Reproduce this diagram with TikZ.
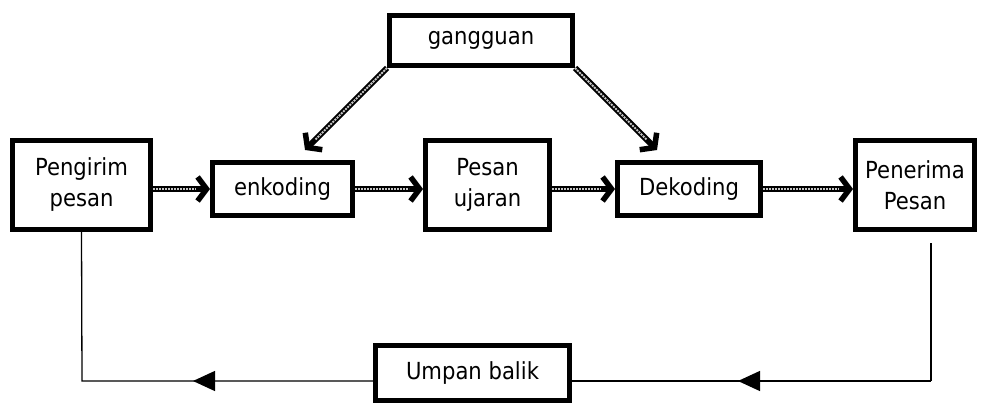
\documentclass[tikz,border=0pt]{standalone}
\usepackage{fontspec}
\setmainfont[FakeStretch=0.9]{DejaVu Sans}
\usetikzlibrary{arrows.meta}
\usetikzlibrary{decorations.markings}

\begin{document}
\begin{tikzpicture}[
		x=1pt, y=-1pt,
		boxnode/.style={
		% The shape:
		rectangle,
		% The border:
		line width=5pt,
		draw=black,
		% Text
		align=center,
		inner sep=0pt,
		font=\fontsize{23.5}{31}\selectfont
		},
		flowarrow/.style={
		% black body, grey dotted core
		line width=6pt,
		-{Straight Barb[length=9pt,width=24pt,line width=5.5pt]},
		postaction={draw=gray!45, line width=2pt, densely dotted, -, shorten >=14pt}
		},
		backline/.style={line width=1.3pt},
		backarrow/.style={
		backline,
		postaction={decorate, decoration={markings,
			mark=at position #1 with {\arrow{Triangle[length=22pt,width=20pt]}}}}
		}
	]
	\useasboundingbox (0,0) rectangle (987,406);

	\node (pengirim)[boxnode, minimum width=138pt, minimum height=89pt] at (81.5,185) {Pengirim\\pesan};
	\node (enkoding)[boxnode, minimum width=140pt, minimum height=53pt] at (282.5,189) {enkoding};
	\node (pesan)[boxnode, minimum width=124pt, minimum height=89pt] at (487.5,185) {Pesan\\ujaran};
	\node (dekoding)[boxnode, minimum width=143pt, minimum height=53pt] at (689,189) {Dekoding};
	\node (penerima)[boxnode, minimum width=119pt, minimum height=89pt] at (915,185) {Penerima\\Pesan};
	\node (gangguan)[boxnode, minimum width=183pt, minimum height=50pt] at (481,40.5) {gangguan};
	\node (umpan)[boxnode, minimum width=194pt, minimum height=55pt] at (472.5,373) {Umpan balik};

	\coordinate (noiseL) at (305,150);
	\coordinate (noiseR) at (657,150);
	\coordinate (fbl) at (82,381);
	\coordinate (fbr) at (931,381);
	\coordinate (fbtop) at (931,243);

	% main chain
	\draw [flowarrow] ([yshift=-4pt]pengirim.east) -- (enkoding.west);
	\draw [flowarrow] (enkoding.east) -- ([yshift=-4pt]pesan.west);
	\draw [flowarrow] ([yshift=-4pt]pesan.east) -- (dekoding.west);
	\draw [flowarrow] (dekoding.east) -- ([yshift=-4pt]penerima.west);

	% noise
	\draw [flowarrow] (gangguan.south west) -- (noiseL);
	\draw [flowarrow] (gangguan.south east) -- (noiseR);

	% feedback loop
	\draw [backline] (fbtop) -- (fbr);
	\draw [backarrow=193pt] (fbr) -- (umpan.east |- fbr);
	\draw [backarrow=180pt] (umpan.west |- fbl) -- (fbl) -- (pengirim.south);
\end{tikzpicture}
\end{document}
